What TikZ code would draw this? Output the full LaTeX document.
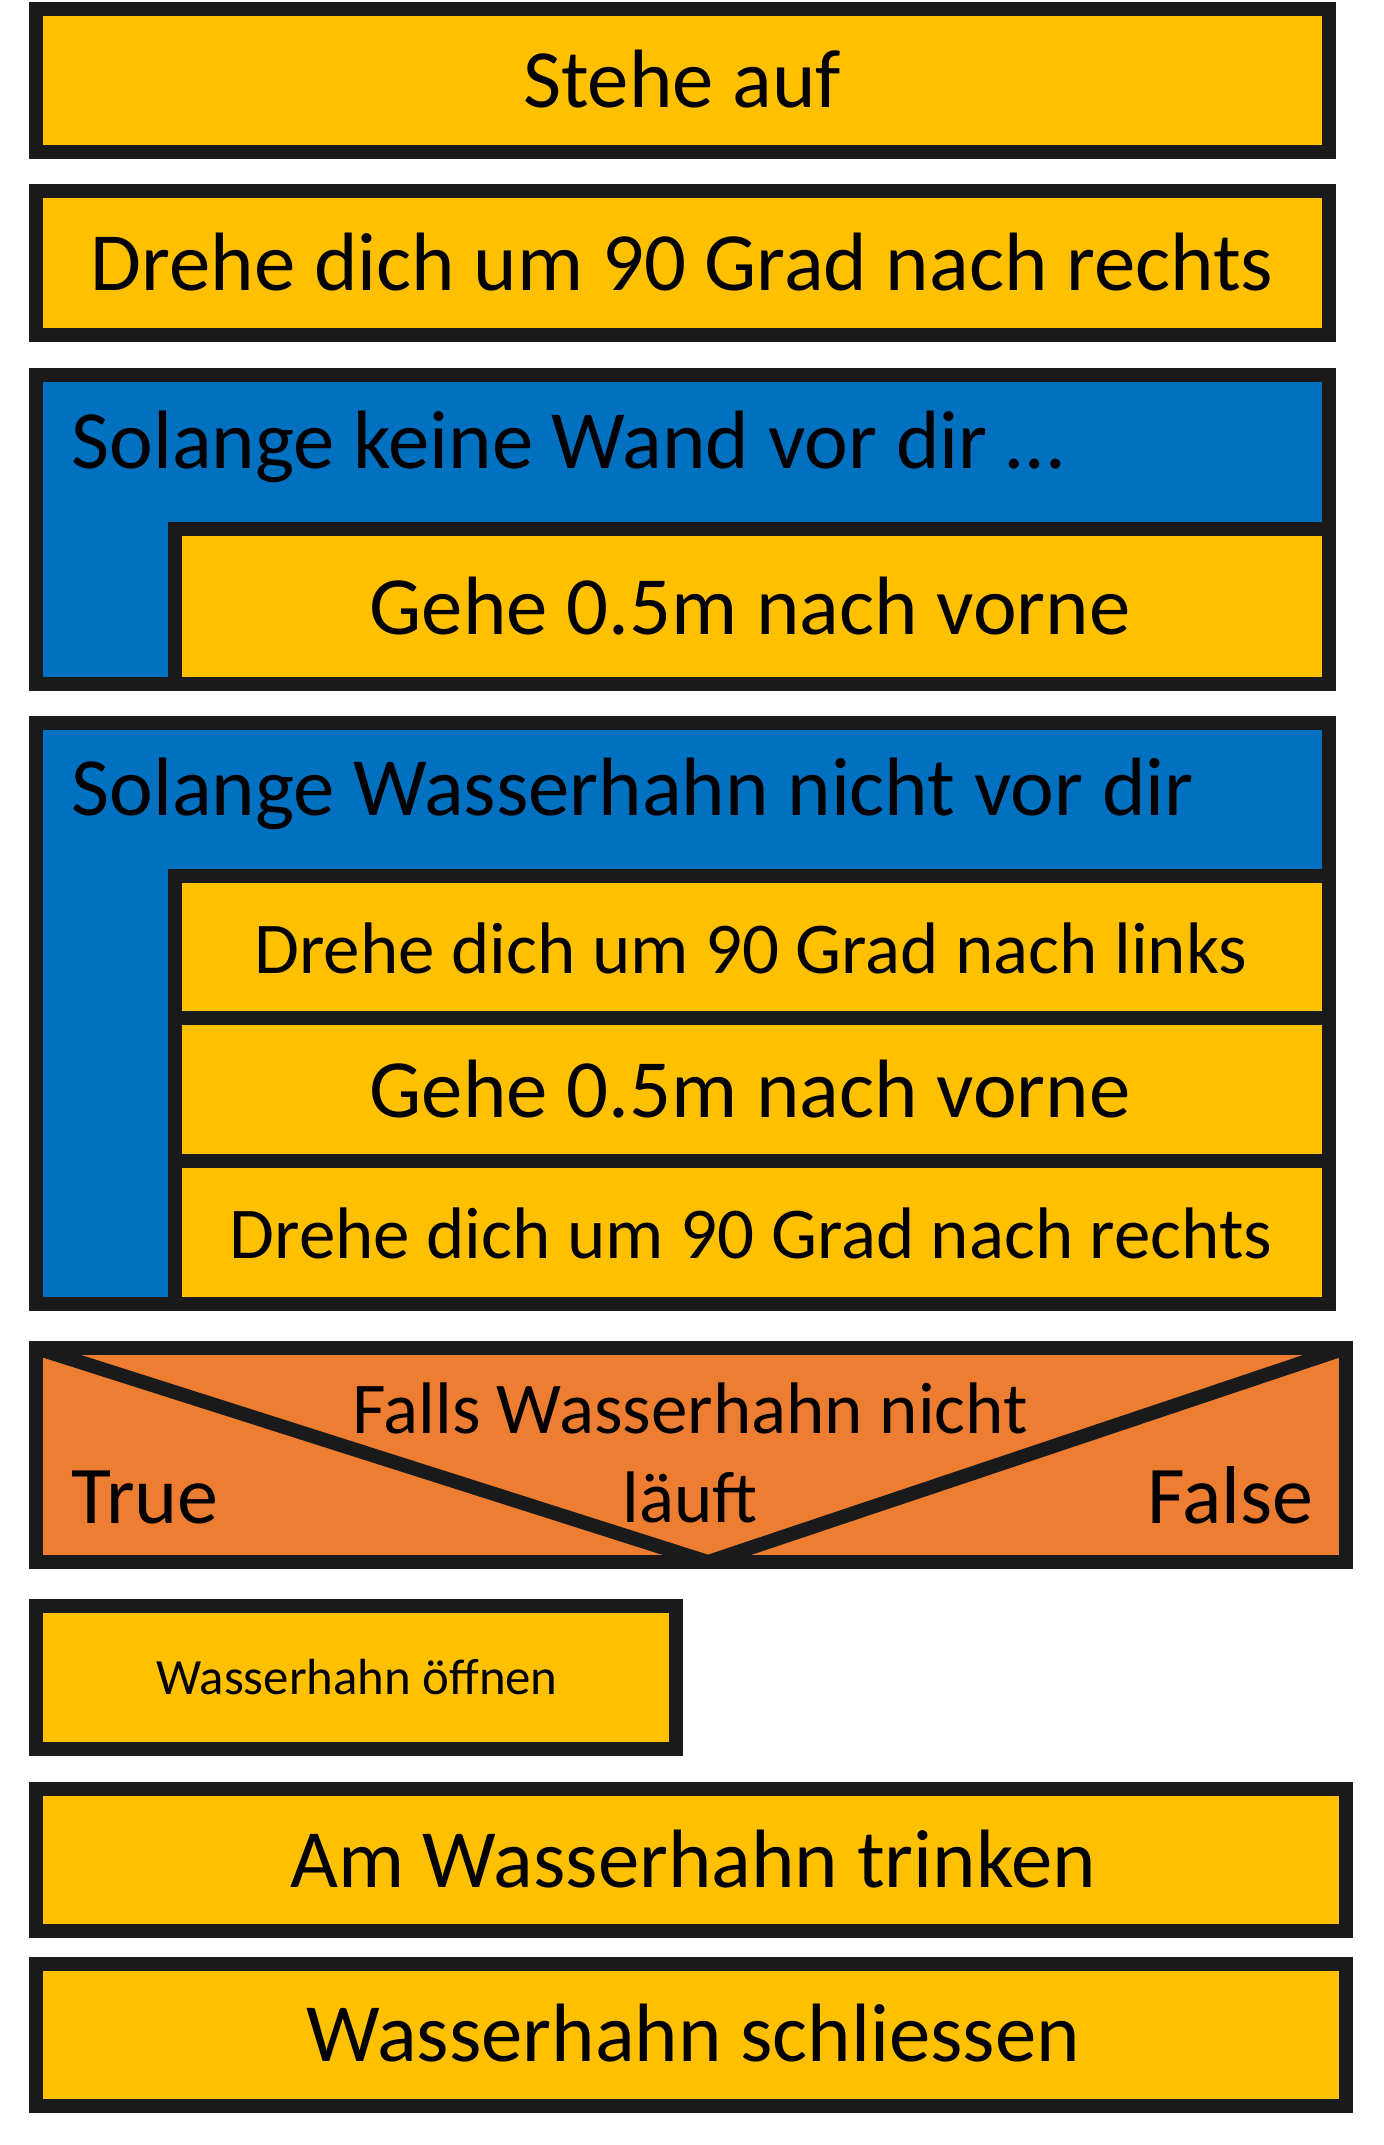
\documentclass[tikz,border=0pt]{standalone}
\usepackage{fontspec}
\setmainfont{Carlito}
\definecolor{gelb}{HTML}{FFC000}
\definecolor{blau}{HTML}{0070C0}
\definecolor{falls}{HTML}{ED7D31}
\definecolor{rand}{HTML}{1A1A1A}
\begin{document}
\begin{tikzpicture}[x=0.5pt, y=-0.5pt, line join=miter,
    blk/.style={draw=rand, line width=7pt},
    gross/.style={anchor=base, inner sep=0pt, font=\fontsize{41.4}{50}\selectfont},
    mittel/.style={anchor=base, inner sep=0pt, font=\fontsize{36.5}{44}\selectfont},
    klein/.style={anchor=base, inner sep=0pt, font=\fontsize{25.4}{30}\selectfont}]
    \def\xl{36} \def\xr{1329} \def\xR{1346} \def\xi{175}
    \useasboundingbox (0,0) rectangle (1384,2145);
    % Anweisungen oben
    \draw[blk, fill=gelb] (\xl,9) rectangle (\xr,152);
    \node[gross] (stehe) at (682,108) {Stehe auf};
    \draw[blk, fill=gelb] (\xl,191) rectangle (\xr,335);
    \node[gross] (rechts) at (682,290.5) {Drehe dich um 90 Grad nach rechts};
    % Schleife 1
    \draw[blk, fill=blau] (\xl,375) rectangle (\xr,684);
    \node[gross, anchor=base west] (wand) at (71,468) {Solange keine Wand vor dir …};
    \draw[blk, fill=gelb] (\xi,529) rectangle (\xr,684);
    \node[gross] (vorne) at (750,634) {Gehe 0.5m nach vorne};
    % Schleife 2
    \draw[blk, fill=blau] (\xl,723) rectangle (\xr,1304);
    \node[gross, anchor=base west] (hahn) at (71,815) {Solange Wasserhahn nicht vor dir};
    \foreach \ya/\yb in {876/1018, 1018/1161, 1161/1304}
        \draw[blk, fill=gelb] (\xi,\ya) rectangle (\xr,\yb);
    \node[mittel] (links2) at (751,973) {Drehe dich um 90 Grad nach links};
    \node[gross] (vorne2) at (750,1117) {Gehe 0.5m nach vorne};
    \node[mittel] (rechts2) at (751,1258) {Drehe dich um 90 Grad nach rechts};
    % Verzweigung
    \draw[fill=falls] (\xl,1348) rectangle (\xR,1562);
    \begin{scope}
        \clip (\xl,1348) rectangle (\xR,1562);
        \draw[blk] (\xl,1348) -- (708,1562) -- (\xR,1348);
    \end{scope}
    \draw[blk] (\xl,1348) rectangle (\xR,1562);
    \node[mittel] (falls) at (690,1433) {Falls Wasserhahn nicht};
    \node[mittel] (laeuft) at (690,1522) {läuft};
    \node[mittel, font=\fontsize{41}{49}\selectfont, anchor=base west] (wahr) at (71,1523) {True};
    \node[mittel, font=\fontsize{41}{49}\selectfont, anchor=base east] (falsch) at (1314,1523) {False};
    % Anweisungen unten
    \draw[blk, fill=gelb] (\xl,1606) rectangle (676,1749);
    \node[klein] (oeffnen) at (357,1694) {Wasserhahn öffnen};
    \draw[blk, fill=gelb] (\xl,1789) rectangle (\xR,1931);
    \node[gross] (trinken) at (693,1887) {Am Wasserhahn trinken};
    \draw[blk, fill=gelb] (\xl,1964) rectangle (\xR,2106);
    \node[gross] (schliessen) at (693,2061) {Wasserhahn schliessen};
\end{tikzpicture}
\end{document}
